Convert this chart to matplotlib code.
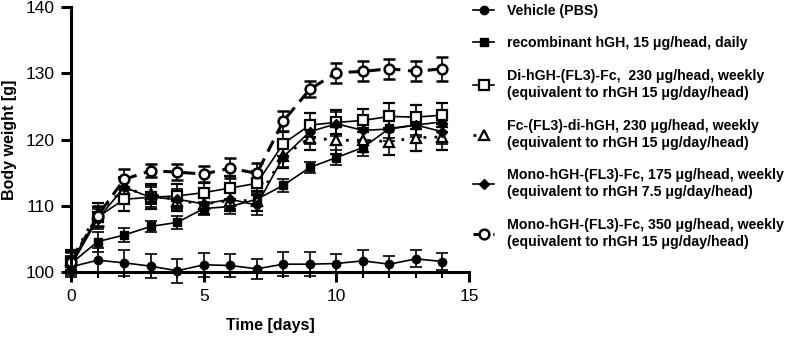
import numpy as np
from matplotlib import pyplot as plt
from matplotlib.ticker import MultipleLocator
from matplotlib.lines import Line2D

plt.rc('font', family=['Liberation Sans', 'DejaVu Sans'])

days = np.arange(15)

vehicle = [100.8, 101.8, 101.4, 100.9, 100.2, 101.1, 101.0, 100.5, 101.2, 101.2, 101.3, 101.7, 101.2, 102.0, 101.6]
vehicle_err = [1.5, 1.8, 2.0, 1.8, 1.8, 1.8, 1.7, 1.5, 1.8, 1.8, 1.5, 1.7, 1.2, 1.3, 1.3]

rhgh = [101.3, 104.6, 105.6, 106.9, 107.5, 109.6, 109.9, 111.0, 113.1, 115.8, 117.3, 118.8, 121.7, 122.2, 122.7]
rhgh_err = [1.0, 1.5, 1.0, 0.8, 1.0, 1.0, 1.2, 1.0, 1.0, 0.8, 1.2, 1.2, 1.5, 1.5, 1.5]

di_fc = [101.5, 108.3, 111.0, 111.3, 111.5, 112.0, 112.7, 113.4, 119.4, 122.2, 122.6, 122.9, 123.5, 123.4, 123.7]
di_fc_err = [1.5, 1.5, 1.8, 1.8, 1.8, 1.5, 1.8, 1.8, 1.8, 1.8, 1.8, 1.8, 2.0, 1.8, 1.8]

fc_di = [101.8, 109.0, 112.5, 111.8, 110.8, 110.3, 110.8, 110.8, 117.5, 120.3, 119.9, 119.9, 119.7, 120.3, 120.4]
fc_di_err = [1.5, 1.5, 1.5, 1.5, 1.5, 1.5, 1.5, 1.5, 1.8, 1.8, 2.0, 1.8, 2.0, 2.0, 2.0]

mono175 = [101.0, 108.0, 112.8, 111.3, 111.0, 110.3, 111.0, 110.1, 117.4, 121.2, 122.4, 121.4, 121.6, 122.2, 121.2]
mono175_err = [1.5, 1.5, 1.5, 1.5, 1.5, 1.5, 1.5, 1.5, 1.5, 1.8, 1.8, 1.8, 1.8, 1.8, 1.8]

mono350 = [101.5, 108.5, 114.0, 115.3, 115.1, 114.8, 115.7, 114.9, 122.8, 127.6, 130.1, 130.3, 130.7, 130.3, 130.7]
mono350_err = [1.5, 1.5, 1.5, 1.0, 1.2, 1.2, 1.5, 1.5, 1.5, 1.2, 1.5, 1.5, 1.5, 1.5, 1.8]

labels = ['Vehicle (PBS)',
          'recombinant hGH, 15 \u03bcg/head, daily',
          'Di-hGH-(FL3)-Fc,  230 \u03bcg/head, weekly\n(equivalent to rhGH 15 \u03bcg/day/head)',
          'Fc-(FL3)-di-hGH, 230 \u03bcg/head, weekly\n(equivalent to rhGH 15 \u03bcg/day/head)',
          'Mono-hGH-(FL3)-Fc, 175 \u03bcg/head, weekly\n(equivalent to rhGH 7.5 \u03bcg/day/head)',
          'Mono-hGH-(FL3)-Fc, 350 \u03bcg/head, weekly\n(equivalent to rhGH 15 \u03bcg/day/head)']

series = [
    (vehicle, vehicle_err, dict(marker='o', ls='-', lw=1.2, mfc='black', ms=6)),
    (rhgh, rhgh_err, dict(marker='s', ls='-', lw=1.2, mfc='black', ms=6)),
    (di_fc, di_fc_err, dict(marker='s', ls='-', lw=1.2, mfc='white', ms=7, mew=1.6)),
    (fc_di, fc_di_err, dict(marker='^', ls=(0, (1, 3)), lw=2.0, mfc='white', ms=7, mew=1.6)),
    (mono175, mono175_err, dict(marker='D', ls='-', lw=1.2, mfc='black', ms=5)),
    (mono350, mono350_err, dict(marker='o', ls=(0, (4, 2.5)), lw=2.2, mfc='white', ms=7, mew=1.8)),
]

fig = plt.figure(figsize=(7.99, 3.41), dpi=100)
ax = fig.add_axes([0.089, 0.202, 0.498, 0.777])

handles = []
for (y, e, st), lab in zip(series, labels):
    h = ax.errorbar(days, y, yerr=e, color='black', ecolor='black', elinewidth=1.2,
                    capsize=4, capthick=1.2, clip_on=False, label=lab, **st)
    for part in h.lines[1] + h.lines[2]:
        part.set_clip_on(False)
    handles.append(Line2D([], [], color='black', **st))

ax.set_xlim(0, 15)
ax.set_ylim(100, 140)
ax.xaxis.set_major_locator(MultipleLocator(5))
ax.xaxis.set_minor_locator(MultipleLocator(1))
ax.yaxis.set_major_locator(MultipleLocator(10))
for s in ['top', 'right']:
    ax.spines[s].set_visible(False)
for s in ['left', 'bottom']:
    ax.spines[s].set_linewidth(2.2)
ax.tick_params(which='major', length=7, width=2.2, labelsize=12.5, pad=5)
ax.tick_params(which='minor', length=4, width=1.5)
ax.set_xlabel('Time [days]', fontsize=11.5, fontweight='bold', labelpad=10)
ax.set_ylabel('Body weight [g]', fontsize=11.5, fontweight='bold', labelpad=6)

leg = fig.legend(handles, labels, loc='upper left', bbox_to_anchor=(0.576, 1.027),
                 frameon=False, prop=dict(size=10.2, weight='bold'),
                 handlelength=1.5, handletextpad=0.9, labelspacing=1.33)
for t in leg.get_texts():
    t.set_linespacing(1.25)

plt.savefig('out.png', dpi=100)
